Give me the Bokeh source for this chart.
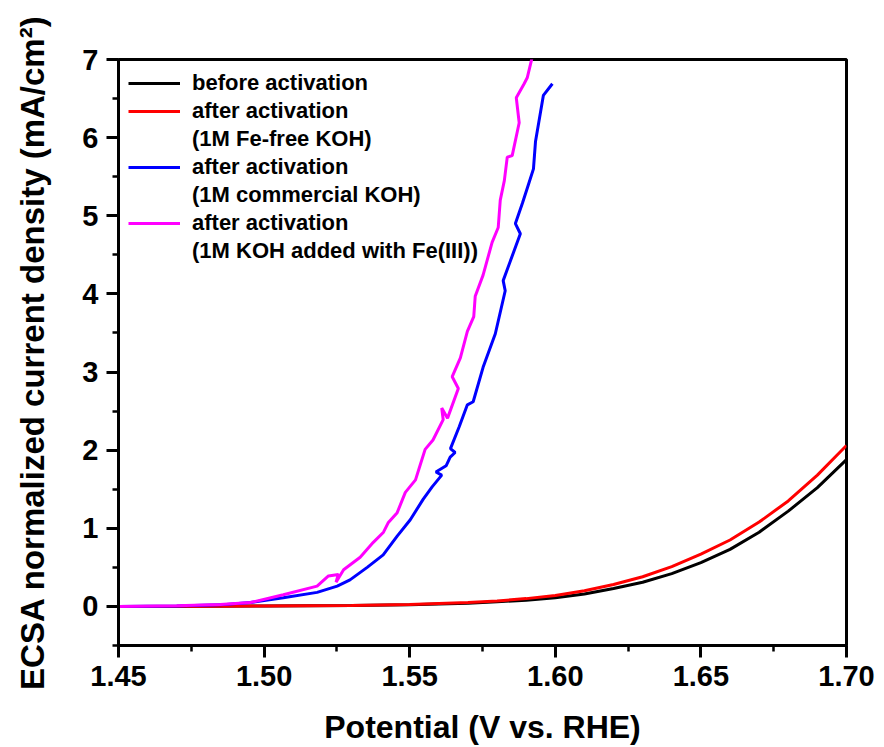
from bokeh.plotting import figure
from bokeh.models import (Legend, LegendItem, FixedTicker, Range1d,
                          NumeralTickFormatter)
from bokeh.embed import file_html
from bokeh.resources import INLINE

# ---------------- data ----------------
black_v = [1.450, 1.480, 1.500, 1.530, 1.550, 1.570, 1.580, 1.590, 1.600, 1.610,
           1.620, 1.630, 1.640, 1.650, 1.660, 1.670, 1.680, 1.690, 1.700]
black_j = [0.000, 0.003, 0.006, 0.012, 0.020, 0.040, 0.060, 0.080, 0.110, 0.160,
           0.230, 0.310, 0.420, 0.560, 0.730, 0.950, 1.220, 1.520, 1.880]

red_v = [1.450, 1.480, 1.500, 1.530, 1.550, 1.570, 1.580, 1.590, 1.600, 1.610,
         1.620, 1.630, 1.640, 1.650, 1.660, 1.670, 1.680, 1.690, 1.700]
red_j = [0.000, 0.003, 0.006, 0.013, 0.025, 0.050, 0.070, 0.100, 0.140, 0.200,
         0.280, 0.380, 0.510, 0.670, 0.850, 1.080, 1.350, 1.680, 2.060]

blue_v = [1.4500, 1.4700, 1.4850, 1.4953, 1.5066, 1.5182, 1.5251, 1.5295, 1.5354,
          1.5409, 1.5457, 1.5502, 1.5546, 1.5577, 1.5610, 1.5590, 1.5625, 1.5639,
          1.5656, 1.5640, 1.5670, 1.5698, 1.5718, 1.5752, 1.5794, 1.5828, 1.5821,
          1.5880, 1.5863, 1.5887, 1.5907, 1.5925, 1.5932, 1.5959, 1.5990]
blue_j = [0.000, 0.005, 0.020, 0.050, 0.110, 0.180, 0.260, 0.340, 0.500,
          0.660, 0.900, 1.110, 1.370, 1.530, 1.680, 1.720, 1.800, 1.910,
          1.970, 2.020, 2.300, 2.580, 2.620, 3.060, 3.490, 4.040, 4.170,
          4.770, 4.900, 5.160, 5.390, 5.600, 5.950, 6.540, 6.690]

mag_v = [1.4500, 1.4700, 1.4850, 1.4953, 1.5066, 1.5182, 1.5221, 1.5255, 1.5247,
         1.5273, 1.5330, 1.5375, 1.5410, 1.5426, 1.5457, 1.5485, 1.5520, 1.5536,
         1.5553, 1.5580, 1.5615, 1.5610, 1.5630, 1.5667, 1.5646, 1.5674, 1.5698,
         1.5720, 1.5725, 1.5752, 1.5783, 1.5804, 1.5811, 1.5825, 1.5835, 1.5852,
         1.5876, 1.5866, 1.5893, 1.5904, 1.5918, 1.5925]
mag_j = [0.000, 0.008, 0.025, 0.050, 0.150, 0.260, 0.390, 0.410, 0.310,
         0.470, 0.630, 0.820, 0.950, 1.070, 1.200, 1.460, 1.620, 1.810,
         2.010, 2.130, 2.390, 2.540, 2.410, 2.790, 2.940, 3.180, 3.520,
         3.710, 3.970, 4.240, 4.660, 4.850, 5.200, 5.450, 5.750, 5.770,
         6.190, 6.510, 6.690, 6.770, 6.990, 7.100]

series_labels = ["before activation",
                 "after activation", "(1M Fe-free KOH)",
                 "after activation", "(1M commercial KOH)",
                 "after activation", "(1M KOH added with Fe(III))"]

x_major = [1.45, 1.50, 1.55, 1.60, 1.65, 1.70]
x_minor = [1.475, 1.525, 1.575, 1.625, 1.675]
y_major = [0, 1, 2, 3, 4, 5, 6, 7]
y_minor = [-0.5, 0.5, 1.5, 2.5, 3.5, 4.5, 5.5, 6.5]

x_label = "Potential (V vs. RHE)"
y_label = "ECSA normalized current density (mA/cm²)"

FONT = "Liberation Sans"

# ---------------- figure ----------------
p = figure(width=884, height=747, output_backend="svg", toolbar_location=None,
           x_range=Range1d(1.45, 1.70), y_range=Range1d(-0.5, 7.0),
           min_border_left=118, min_border_right=38,
           min_border_top=59, min_border_bottom=101)

p.background_fill_color = "white"
p.border_fill_color = "white"
p.outline_line_color = "black"
p.outline_line_width = 3
p.outline_line_alpha = 1.0
p.xgrid.visible = False
p.ygrid.visible = False

for ax in (p.xaxis[0], p.yaxis[0]):
    ax.axis_line_width = 3
    ax.major_tick_line_width = 3
    ax.minor_tick_line_width = 2.5
    ax.major_tick_out = 12
    ax.major_tick_in = 0
    ax.minor_tick_out = 6
    ax.minor_tick_in = 0
    ax.major_label_text_font = FONT
    ax.major_label_text_font_style = "bold"
    ax.major_label_text_font_size = "29px"
    ax.major_label_text_color = "black"
    ax.axis_label_text_font = FONT
    ax.axis_label_text_font_style = "bold"
    ax.axis_label_text_color = "black"

p.xaxis.axis_label_text_font_size = "32px"
p.yaxis.axis_label_text_font_size = "33px"
p.xaxis.ticker = FixedTicker(ticks=x_major, minor_ticks=x_minor)
p.yaxis.ticker = FixedTicker(ticks=y_major, minor_ticks=y_minor)
p.xaxis.formatter = NumeralTickFormatter(format="0.00")
p.xaxis.axis_label = x_label
p.yaxis.axis_label = y_label
p.xaxis.major_label_standoff = 8
p.yaxis.major_label_standoff = 8
p.xaxis.axis_label_standoff = 20
p.yaxis.axis_label_standoff = 28

lw = 3
r_black = p.line(black_v, black_j, line_color="black", line_width=lw)
r_red = p.line(red_v, red_j, line_color="#FF0000", line_width=lw)
r_blue = p.line(blue_v, blue_j, line_color="#0000FF", line_width=lw)
r_mag = p.line(mag_v, mag_j, line_color="#FF00FF", line_width=lw)

# invisible renderer for the second line of two-line legend entries
r_blank = p.line(x=[], y=[], line_alpha=0, line_width=lw)

items = [
    LegendItem(label=series_labels[0], renderers=[r_black]),
    LegendItem(label=series_labels[1], renderers=[r_red]),
    LegendItem(label=series_labels[2], renderers=[r_blank]),
    LegendItem(label=series_labels[3], renderers=[r_blue]),
    LegendItem(label=series_labels[4], renderers=[r_blank]),
    LegendItem(label=series_labels[5], renderers=[r_mag]),
    LegendItem(label=series_labels[6], renderers=[r_blank]),
]
legend = Legend(items=items, location="top_left")
legend.margin = 0
legend.padding = 10
legend.spacing = 0
legend.glyph_width = 52
legend.glyph_height = 28
legend.label_height = 28
legend.label_standoff = 12
legend.label_text_font = FONT
legend.label_text_font_style = "bold"
legend.label_text_font_size = "22px"
legend.label_text_color = "black"
legend.border_line_alpha = 0
legend.background_fill_alpha = 0
p.add_layout(legend)

open("out.html", "w").write(file_html(p, INLINE))
